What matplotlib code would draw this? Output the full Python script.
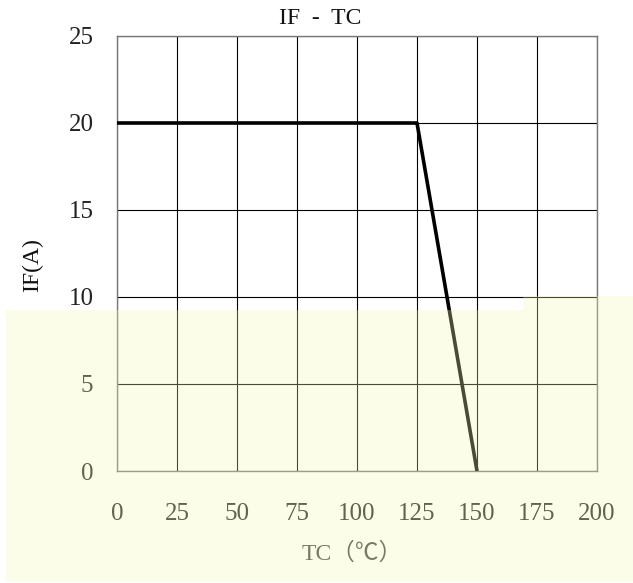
import matplotlib
matplotlib.use("Agg")
import matplotlib.pyplot as plt
from matplotlib.patches import Polygon

plt.rcParams['font.family'] = ['Liberation Serif', 'Noto Sans CJK SC', 'DejaVu Sans']

# derating curve IF vs TC
tc = [0, 125, 150]
i_f = [20, 20, 0]
x_ticks = [0, 25, 50, 75, 100, 125, 150, 175, 200]
y_ticks = [0, 5, 10, 15, 20, 25]

fig = plt.figure(figsize=(6.33, 5.83), dpi=100)
ax = fig.add_axes([117 / 633, 1 - 471 / 583, 480 / 633, 435 / 583])

ax.plot(tc, i_f, color="black", lw=2.6, solid_capstyle="butt", zorder=3)
ax.set_xlim(0, 200)
ax.set_ylim(0, 25)
ax.set_xticks(x_ticks)
ax.set_yticks(y_ticks)
ax.grid(True, color="black", lw=0.8)
ax.tick_params(length=0, labelsize=18, labelcolor="#222222")
ax.tick_params(axis="y", pad=17)
ax.tick_params(axis="x", pad=23)
for s in ax.spines.values():
    s.set_color("#777777")
    s.set_linewidth(1.0)

fig.text(320 / 633, 1 - 18 / 583, "IF  -  TC", fontsize=17, ha="center", va="center",
         color="#111111")
fig.text(33 / 633, 1 - 265 / 583, "IF(A)", fontsize=17, rotation=90, ha="center",
         va="center", color="#111111")
fig.text(352 / 633, 1 - 553 / 583, "TC（℃）", fontsize=17, ha="center", va="center",
         color="#444444")

# pale yellow overlay over the lower part of the picture
W, H = 633, 583
pts = [(6, 310), (523, 310), (523, 296), (633, 296), (633, 582), (6, 582)]
poly = Polygon([(x / W, 1 - y / H) for x, y in pts], closed=True,
               transform=fig.transFigure, facecolor=(0.96, 0.98, 0.70),
               edgecolor="none", alpha=0.3, zorder=10)
fig.patches.append(poly)

fig.savefig("out.png", dpi=100)
